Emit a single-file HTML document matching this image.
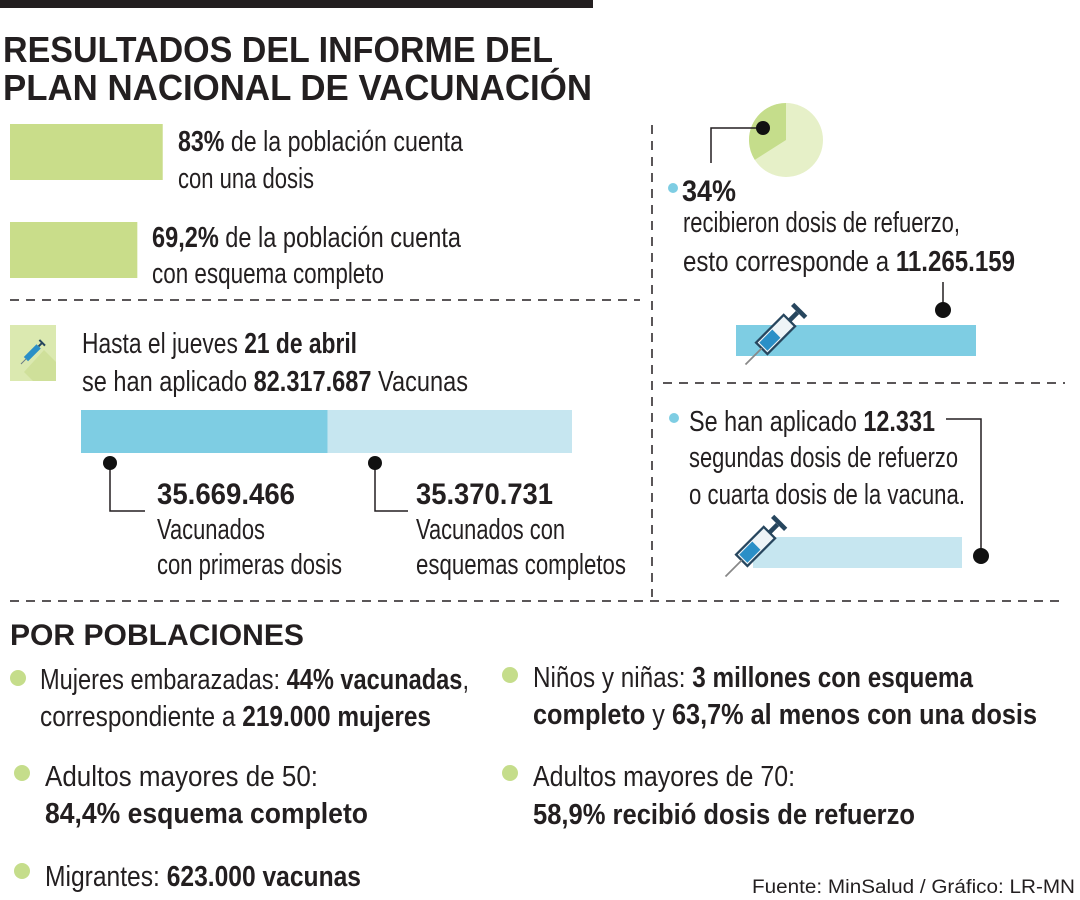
<!DOCTYPE html>
<html><head><meta charset="utf-8"><style>
html,body{margin:0;padding:0;background:#fff;}
svg{display:block;font-family:"Liberation Sans Narrow","Liberation Sans",sans-serif;}
text{fill:#231f20;}
.b{font-weight:bold;}
</style></head><body>
<svg id="g" width="1080" height="900" viewBox="0 0 1080 900" xmlns="http://www.w3.org/2000/svg">
<rect x="0" y="0" width="593" height="8" fill="#231f20"/>
<text x="3" y="62" font-size="36" class="b" textLength="550" lengthAdjust="spacingAndGlyphs">RESULTADOS DEL INFORME DEL</text>
<text x="3" y="100" font-size="36" class="b" textLength="589" lengthAdjust="spacingAndGlyphs">PLAN NACIONAL DE VACUNACIÓN</text>

<g id="coverage"></g>
<text x="178" y="151" font-size="29" textLength="285" lengthAdjust="spacingAndGlyphs"><tspan class="b">83%</tspan> de la población cuenta</text>
<text x="178" y="188" font-size="29" textLength="136" lengthAdjust="spacingAndGlyphs">con una dosis</text>
<text x="152" y="247" font-size="29" textLength="309" lengthAdjust="spacingAndGlyphs"><tspan class="b">69,2%</tspan> de la población cuenta</text>
<text x="152" y="283" font-size="29" textLength="232" lengthAdjust="spacingAndGlyphs">con esquema completo</text>

<g stroke="#231f20" stroke-width="1.5" stroke-dasharray="9 7" fill="none">
<line x1="10" y1="300" x2="640" y2="300"/>
<line x1="652" y1="125" x2="652" y2="597"/>
<line x1="663" y1="383" x2="1065" y2="383"/>
<line x1="10" y1="601" x2="1060" y2="601"/>
</g>

<g>
<rect x="10" y="325" width="46" height="56" fill="#dbe9b0"/>
<polygon points="24,372 44,350 56,362 56,381 33,381" fill="#cfe09a"/>
<g transform="translate(33,352) rotate(-45)"><rect x="-10" y="-3" width="18" height="6" fill="#2a8fc7"/><rect x="8" y="-1" width="5" height="2" fill="#27465e"/><rect x="12" y="-4" width="2" height="8" fill="#27465e"/><line x1="-10" y1="0" x2="-17" y2="0" stroke="#6a7a85" stroke-width="1"/></g>
</g>
<text x="82" y="353" font-size="29" textLength="275" lengthAdjust="spacingAndGlyphs">Hasta el jueves <tspan class="b">21 de abril</tspan></text>
<text x="82" y="391" font-size="29" textLength="386" lengthAdjust="spacingAndGlyphs">se han aplicado <tspan class="b">82.317.687</tspan> Vacunas</text>

<g id="mainbar"></g>
<g stroke="#231f20" stroke-width="1.5" fill="none">
<polyline points="110,463 110,511 145,511"/>
<polyline points="375,463 375,511 408,511"/>
</g>
<circle cx="110" cy="463" r="7" fill="#111"/>
<circle cx="375" cy="463" r="7" fill="#111"/>
<text x="157" y="504" font-size="30" class="b" textLength="138" lengthAdjust="spacingAndGlyphs">35.669.466</text>
<text x="157" y="539" font-size="29" textLength="108" lengthAdjust="spacingAndGlyphs">Vacunados</text>
<text x="157" y="574" font-size="29" textLength="185" lengthAdjust="spacingAndGlyphs">con primeras dosis</text>
<text x="416" y="504" font-size="30" class="b" textLength="137" lengthAdjust="spacingAndGlyphs">35.370.731</text>
<text x="416" y="539" font-size="29" textLength="149" lengthAdjust="spacingAndGlyphs">Vacunados con</text>
<text x="416" y="574" font-size="29" textLength="210" lengthAdjust="spacingAndGlyphs">esquemas completos</text>

<g id="pie"></g>
<polyline points="763,128 711,128 711,163" stroke="#231f20" stroke-width="1.5" fill="none"/>
<circle cx="763" cy="128" r="7" fill="#111"/>
<circle cx="673" cy="188" r="5" fill="#7ecde3"/>
<text x="682" y="201" font-size="30" class="b" textLength="54" lengthAdjust="spacingAndGlyphs">34%</text>
<text x="683" y="232" font-size="29" textLength="277" lengthAdjust="spacingAndGlyphs">recibieron dosis de refuerzo,</text>
<text x="683" y="271" font-size="29" textLength="332" lengthAdjust="spacingAndGlyphs">esto corresponde a <tspan class="b">11.265.159</tspan></text>
<line x1="943" y1="282" x2="943" y2="310" stroke="#231f20" stroke-width="1.5"/>
<circle cx="943" cy="310" r="8" fill="#111"/>
<rect x="736" y="325" width="240" height="31" fill="#7ecde3"/>
<g transform="translate(778,332) rotate(-45) scale(1.15)">
<rect x="-20" y="-7" width="34" height="14" fill="#eef4f7" stroke="#27465e" stroke-width="2"/><rect x="-18" y="-5" width="16" height="10" fill="#2a8fc7"/><rect x="14" y="-2" width="10" height="4" fill="#27465e"/><rect x="24" y="-8" width="4" height="16" fill="#27465e"/><line x1="-20" y1="0" x2="-40" y2="0" stroke="#888" stroke-width="1.5"/></g>

<circle cx="674" cy="418" r="5" fill="#7ecde3"/>
<text x="689" y="431" font-size="29" textLength="246" lengthAdjust="spacingAndGlyphs">Se han aplicado <tspan class="b">12.331</tspan></text>
<text x="689" y="467" font-size="29" textLength="269" lengthAdjust="spacingAndGlyphs">segundas dosis de refuerzo</text>
<text x="689" y="504" font-size="29" textLength="276" lengthAdjust="spacingAndGlyphs">o cuarta dosis de la vacuna.</text>
<polyline points="946,419 981,419 981,556" stroke="#231f20" stroke-width="1.5" fill="none"/>
<circle cx="981" cy="556" r="8" fill="#111"/>
<rect x="753" y="537" width="209" height="31" fill="#c6e6f0"/>
<g transform="translate(758,544) rotate(-45) scale(1.15)">
<rect x="-20" y="-7" width="34" height="14" fill="#eef4f7" stroke="#27465e" stroke-width="2"/><rect x="-18" y="-5" width="16" height="10" fill="#2a8fc7"/><rect x="14" y="-2" width="10" height="4" fill="#27465e"/><rect x="24" y="-8" width="4" height="16" fill="#27465e"/><line x1="-20" y1="0" x2="-40" y2="0" stroke="#888" stroke-width="1.5"/></g>

<text x="10" y="645" font-size="30" class="b" textLength="294" lengthAdjust="spacingAndGlyphs">POR POBLACIONES</text>
<g fill="#c5dd8b">
<circle cx="18" cy="678" r="8"/><circle cx="22" cy="773" r="8"/><circle cx="22" cy="871" r="8"/><circle cx="510" cy="675" r="8"/><circle cx="510" cy="773" r="8"/>
</g>
<text x="40" y="689" font-size="29" textLength="429" lengthAdjust="spacingAndGlyphs">Mujeres embarazadas: <tspan class="b">44% vacunadas</tspan>,</text>
<text x="40" y="726" font-size="29" textLength="391" lengthAdjust="spacingAndGlyphs">correspondiente a <tspan class="b">219.000 mujeres</tspan></text>
<text x="45" y="786" font-size="29" textLength="273" lengthAdjust="spacingAndGlyphs">Adultos mayores de 50:</text>
<text x="45" y="823" font-size="29" class="b" textLength="323" lengthAdjust="spacingAndGlyphs">84,4%  esquema completo</text>
<text x="45" y="886" font-size="29" textLength="316" lengthAdjust="spacingAndGlyphs">Migrantes: <tspan class="b">623.000 vacunas</tspan></text>
<text x="533" y="687" font-size="29" textLength="440" lengthAdjust="spacingAndGlyphs">Niños y niñas: <tspan class="b">3 millones con esquema</tspan></text>
<text x="533" y="724" font-size="29" textLength="504" lengthAdjust="spacingAndGlyphs"><tspan class="b">completo</tspan> y <tspan class="b">63,7% al menos con una dosis</tspan></text>
<text x="533" y="786" font-size="29" textLength="262" lengthAdjust="spacingAndGlyphs">Adultos mayores de 70:</text>
<text x="533" y="824" font-size="29" class="b" textLength="382" lengthAdjust="spacingAndGlyphs">58,9% recibió dosis de refuerzo</text>
<text x="752" y="893" font-size="19" textLength="323" lengthAdjust="spacingAndGlyphs">Fuente: MinSalud / Gráfico: LR-MN</text>
</svg>
<script>
const coverageLabels = ["una dosis", "esquema completo"];
const coveragePct = [83, 69.2];
const doseCategories = ["primeras dosis", "esquemas completos"];
const doseValues = [35669466, 35370731];
const boosterPct = [34];

const NS = "http://www.w3.org/2000/svg";
const covScale = v => v * 1.84;
const cov = document.getElementById("coverage");
coveragePct.forEach((v, i) => {
  const r = document.createElementNS(NS, "rect");
  r.setAttribute("x", 10);
  r.setAttribute("y", 124 + i * 98);
  r.setAttribute("width", covScale(v));
  r.setAttribute("height", 56);
  r.setAttribute("fill", "#c9dd8a");
  
  
  cov.appendChild(r);
});

const total = doseValues.reduce((a, b) => a + b, 0);
const barX = 81, barW = 491;
const xScale = v => v / total * barW;
const mb = document.getElementById("mainbar");
const cols = ["#7ecde3", "#c6e6f0"];
let acc = 0;
doseValues.forEach((v, i) => {
  const r = document.createElementNS(NS, "rect");
  r.setAttribute("x", barX + xScale(acc));
  r.setAttribute("y", 410);
  r.setAttribute("width", xScale(v));
  r.setAttribute("height", 43);
  r.setAttribute("fill", cols[i]);
  
  
  mb.appendChild(r);
  acc += v;
});

const cx = 786, cy = 140, R = 37;
const pie = document.getElementById("pie");
const bg = document.createElementNS(NS, "circle");
bg.setAttribute("cx", cx); bg.setAttribute("cy", cy); bg.setAttribute("r", R);
bg.setAttribute("fill", "#e6f0c8");


pie.appendChild(bg);
const ang = boosterPct[0] / 100 * 2 * Math.PI;
const ex = cx - R * Math.sin(ang), ey = cy - R * Math.cos(ang);
const p = document.createElementNS(NS, "path");
p.setAttribute("d", `M${cx},${cy} L${cx},${cy - R} A${R},${R} 0 ${ang > Math.PI ? 1 : 0} 0 ${ex},${ey} Z`);
p.setAttribute("fill", "#c5dd8b");


pie.appendChild(p);
</script>
</body></html>
